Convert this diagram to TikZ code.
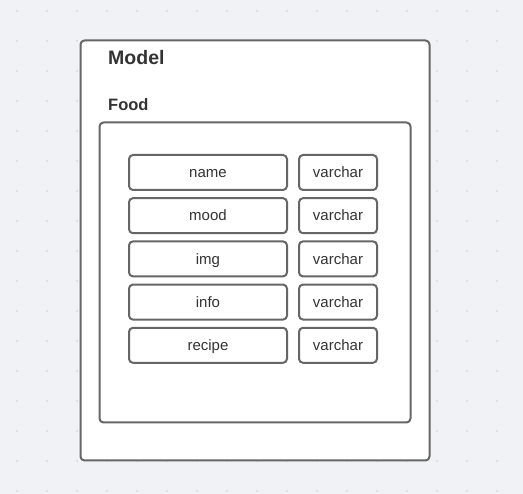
\documentclass[tikz,border=0pt]{standalone}
\usepackage{fontspec}
\setmainfont{Liberation Sans}
\definecolor{bggray}{HTML}{F1F2F5}
\definecolor{dotgray}{HTML}{A0A3A8}
\definecolor{linegray}{HTML}{666666}
\definecolor{textgray}{HTML}{333333}

\begin{document}
\begin{tikzpicture}[x=1pt,y=-1pt,line join=round,
    box/.style={draw=linegray,line width=2pt,fill=white,rounded corners=4pt,inner sep=0pt},
    field/.style={box,minimum width=158pt,minimum height=35pt,text height=10.5pt,text depth=0pt,
      font=\fontsize{15}{18}\selectfont,text=textgray},
    ftype/.style={field,minimum width=78pt},
    title/.style={anchor=west,inner sep=0pt,text=textgray,font=\bfseries}]
  \fill[bggray] (0,0) rectangle (523,494);
  \useasboundingbox (0,0) rectangle (523,494);
  % dot grid
  \foreach \gx in {17,47,...,497}
    \foreach \gy in {11,41,...,491}
      \fill[dotgray] (\gx,\gy) circle (0.6pt);
  % containers
  \node[box,minimum width=349pt,minimum height=420pt] (model) at (255,250.5) {};
  \node[box,minimum width=311pt,minimum height=300pt] (food) at (255,272.5) {};
  \node[title,font=\bfseries\fontsize{19.5}{22}\selectfont] (modeltitle) at (108,58) {Model};
  \node[title,font=\bfseries\fontsize{16.5}{20}\selectfont] (foodtitle) at (108,105) {Food};
  % columns
  \foreach \fname [count=\i from 0] in {name,mood,img,info,recipe}{
    \node[field] (f\i) at (208,172.5+43.2*\i) {\fname};
    \node[ftype] (t\i) at (338,172.5+43.2*\i) {varchar};
  }
\end{tikzpicture}
\end{document}
